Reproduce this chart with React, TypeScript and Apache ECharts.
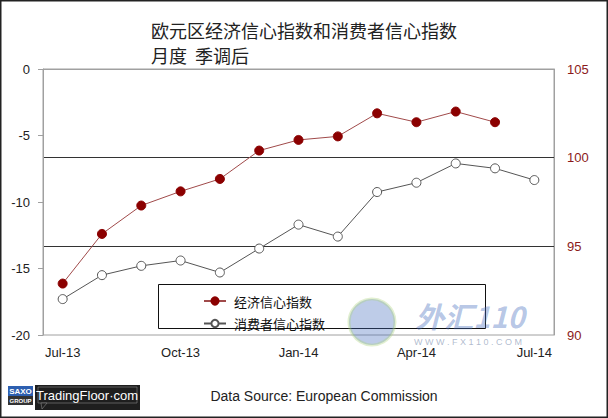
import React, { useEffect, useRef } from "react";
import * as echarts from "echarts";

const categories = ["Jul-13", "Aug-13", "Sep-13", "Oct-13", "Nov-13", "Dec-13", "Jan-14", "Feb-14", "Mar-14", "Apr-14", "May-14", "Jun-14", "Jul-14"];
const esiValues = [92.9, 95.7, 97.3, 98.1, 98.8, 100.4, 101.0, 101.2, 102.5, 102.0, 102.6, 102.0, null];
const consumerValues = [-17.3, -15.5, -14.8, -14.4, -15.3, -13.5, -11.7, -12.6, -9.25, -8.55, -7.1, -7.47, -8.35];
const esiName = "经济信心指数";
const consumerName = "消费者信心指数";
const titleText = "欧元区经济信心指数和消费者信心指数\n月度  季调后";
const sourceText = "Data Source: European Commission";

export default function App() {
  const ref = useRef<HTMLDivElement>(null);
  useEffect(() => {
    if (!ref.current) return;
    const chart = echarts.init(ref.current, null, { renderer: "svg" });
    const latin = "Liberation Sans";
    const cjk = "Noto Sans CJK SC";
    chart.setOption({
      animation: false,
      backgroundColor: "#ffffff",
      title: {
        text: titleText,
        left: 146,
        top: 12,
        textStyle: { fontFamily: cjk, fontSize: 18, fontWeight: "normal", color: "#222", lineHeight: 25 },
      },
      grid: { left: 43, right: 54, top: 69, bottom: 83, show: true, borderColor: "#a0a0a0", borderWidth: 1 },
      legend: {
        orient: "vertical",
        left: 198,
        top: 289,
        itemWidth: 22,
        itemHeight: 9,
        itemGap: 8.5,
        data: [esiName, consumerName],
        textStyle: { fontFamily: cjk, fontSize: 13, color: "#111", lineHeight: 14, padding: [0, 0, 0, 3] },
      },
      xAxis: {
        type: "category",
        data: categories,
        boundaryGap: true,
        axisLine: { lineStyle: { color: "#a0a0a0" } },
        axisTick: { show: false },
        axisLabel: { interval: 2, margin: 11, fontFamily: latin, fontSize: 13, color: "#222" },
        splitLine: { show: false },
      },
      yAxis: [
        {
          type: "value",
          min: -20,
          max: 0,
          interval: 5,
          position: "left",
          axisLine: { show: true, lineStyle: { color: "#a0a0a0" } },
          axisTick: { show: true, length: 5, lineStyle: { color: "#a0a0a0" } },
          axisLabel: { margin: 13, fontFamily: latin, fontSize: 13, color: "#222" },
          splitLine: { show: false },
        },
        {
          type: "value",
          min: 90,
          max: 105,
          interval: 5,
          position: "right",
          axisLine: { show: true, lineStyle: { color: "#a0a0a0" } },
          axisTick: { show: false },
          axisLabel: { margin: 13, fontFamily: latin, fontSize: 13, color: "#8b1a1a" },
          splitLine: {
            show: true,
            lineStyle: { color: ["rgba(0,0,0,0)", "#333", "#333", "rgba(0,0,0,0)"], width: 1 },
          },
        },
      ],
      series: [
        {
          name: esiName,
          type: "line",
          yAxisIndex: 1,
          data: esiValues,
          symbol: "circle",
          symbolSize: 9,
          lineStyle: { color: "#a04a4a", width: 1 },
          itemStyle: { color: "#8b0000", borderColor: "#8b0000", borderWidth: 1 },
          z: 3,
        },
        {
          name: consumerName,
          type: "line",
          yAxisIndex: 0,
          data: consumerValues,
          symbol: "circle",
          symbolSize: 9,
          lineStyle: { color: "#555", width: 1 },
          itemStyle: { color: "#ffffff", borderColor: "#555", borderWidth: 1 },
          z: 3,
        },
      ],
      graphic: [
        {
          type: "rect",
          shape: { x: 158.5, y: 284.5, width: 327, height: 44 },
          style: { fill: "#ffffff", stroke: "#111", lineWidth: 1 },
          z: 1,
        },
        {
          type: "text",
          x: 324,
          y: 396,
          style: { text: sourceText, fontFamily: latin, fontSize: 14, fill: "#222", align: "center", verticalAlign: "middle" },
        },
        // logo
        { type: "rect", shape: { x: 8, y: 386, width: 25, height: 10 }, style: { fill: "#2d5fb0" } },
        { type: "rect", shape: { x: 8, y: 396, width: 25, height: 9 }, style: { fill: "#333" } },
        { type: "text", x: 20.5, y: 391, style: { text: "SAXO", fontFamily: latin, fontWeight: "bold", fontSize: 8, fill: "#fff", align: "center", verticalAlign: "middle" } },
        { type: "text", x: 20.5, y: 400.5, style: { text: "GROUP", fontFamily: latin, fontWeight: "bold", fontSize: 6, fill: "#fff", align: "center", verticalAlign: "middle" } },
        { type: "rect", shape: { x: 35, y: 385, width: 105, height: 25 }, style: { fill: "#1e1e1e" } },
        { type: "rect", shape: { x: 38, y: 387, width: 99, height: 16 }, style: { fill: "none", stroke: "#888", lineWidth: 0.6 } },
        { type: "polygon", shape: { points: [[41, 403], [47, 403], [42, 409]] }, style: { fill: "#1e1e1e", stroke: "#888", lineWidth: 0.6 } },
        { type: "text", x: 87, y: 395.5, style: { text: "TradingFloor·com", fontFamily: latin, fontSize: 13, fill: "#fff", align: "center", verticalAlign: "middle" } },
        // watermark
        { type: "circle", shape: { cx: 372, cy: 322, r: 23 }, style: { fill: "rgba(70,110,190,0.35)", stroke: "rgba(170,210,120,0.35)", lineWidth: 3 }, z: 10 },
        { type: "text", x: 470, y: 315, style: { text: "外汇110", fontFamily: cjk, fontWeight: "bold", fontStyle: "italic", fontSize: 29, fill: "rgba(70,110,190,0.4)", align: "center", verticalAlign: "middle" }, z: 10 },
        { type: "text", x: 468, y: 342, style: { text: "W W W . F X 1 1 0 . C O M", fontFamily: latin, fontSize: 9, fill: "rgba(110,130,165,0.55)", align: "center", verticalAlign: "middle" }, z: 10 },
        // outer frame
        { type: "rect", shape: { x: 0.75, y: 0.75, width: 606.5, height: 416.5 }, style: { fill: "none", stroke: "#222", lineWidth: 1.5 }, z: 20 },
      ],
    });
    return () => chart.dispose();
  }, []);
  return <div ref={ref} style={{ position: "absolute", left: 0, top: 0, width: 608, height: 418 }} />;
}
